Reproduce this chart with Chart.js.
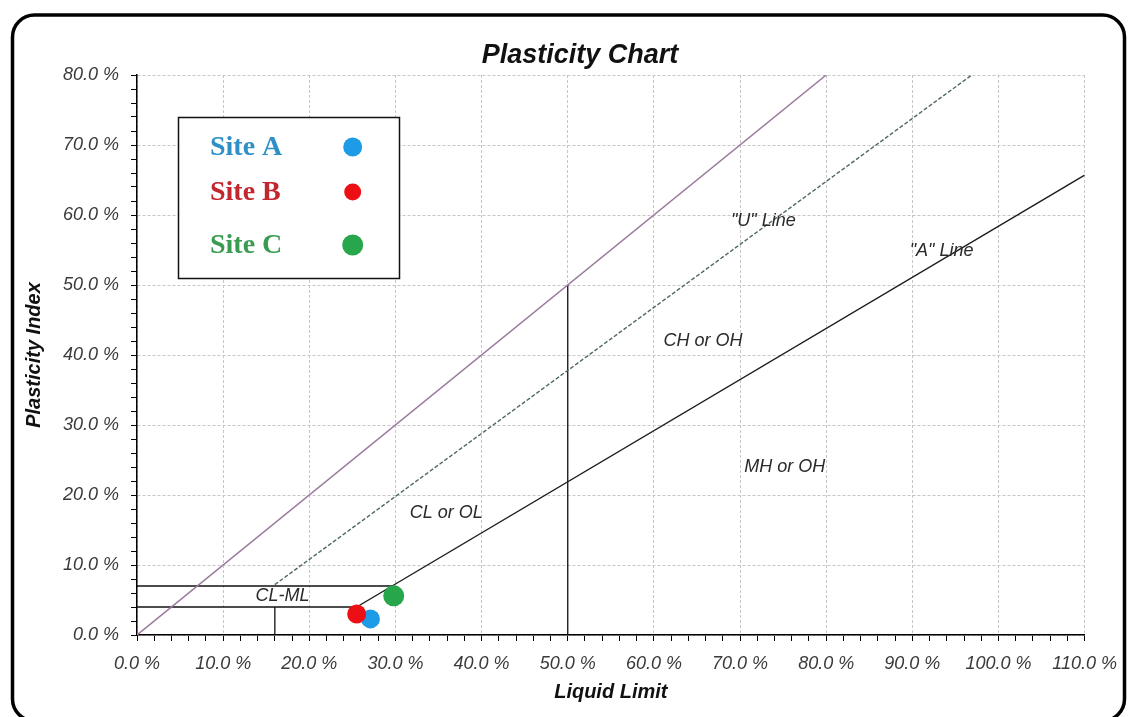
<!DOCTYPE html>
<html>
<head>
<meta charset="utf-8">
<title>Plasticity Chart</title>
<script src="https://cdn.jsdelivr.net/npm/chart.js@4/dist/chart.umd.min.js"></script>
<style>
  html, body { margin: 0; padding: 0; background: #fff; }
  canvas { display: block; }
</style>
</head>
<body>
<canvas id="plasticity" width="1129" height="717"></canvas>
<script>
// ---- text ----
const chartTitle = 'Plasticity Chart';
const xAxisTitle = 'Liquid Limit';
const yAxisTitle = 'Plasticity Index';

// ---- tick labels (percent) ----
const xMajorTicks = [0, 10, 20, 30, 40, 50, 60, 70, 80, 90, 100, 110];
const yMajorTicks = [0, 10, 20, 30, 40, 50, 60, 70, 80];
const minorStep = 2;

// ---- sample results: liquid limit (%) and plasticity index (%) ----
const siteNames = ['Site A', 'Site B', 'Site C'];
const siteLL = [27.1, 25.5, 29.8];
const sitePI = [2.3, 3.0, 5.6];
const siteColors = ['#1e9be6', '#ec1016', '#27a64c'];
const siteTextColors = ['#2f90c8', '#c2262e', '#3a9c52'];

// ---- classification lines (LL %, PI %) ----
const equalityLL = [0, 80];     const equalityPI = [0, 80];
const uLineLL = [16, 96.9];     const uLinePI = [7.2, 80];
const aLineLL = [25.5, 110];    const aLinePI = [4.0, 65.7];
const ll50LL = [50, 50];        const ll50PI = [0, 50];
const pi7LL = [0, 29.6];        const pi7PI = [7, 7];
const pi4LL = [0, 25.5];        const pi4PI = [4, 4];
const ll16LL = [16, 16];        const ll16PI = [0, 4];

// ---- zone and line captions ----
const zoneLabels = ['"U" Line', '"A" Line', 'CH or OH', 'MH or OH', 'CL or OL', 'CL-ML'];
const zoneLabelLL = [72.7, 93.4, 65.7, 75.2, 35.9, 16.9];
const zoneLabelPI = [59.1, 54.9, 42.0, 24.0, 17.4, 5.6];

const SANS = '"Liberation Sans", Arial, Helvetica, sans-serif';
const SERIF = '"Liberation Serif", "Times New Roman", serif';

const toPoints = (xs, ys) => xs.map((x, i) => ({ x: x, y: ys[i] }));

function lineSet(xs, ys, color, width, dash) {
  return {
    label: '',
    data: toPoints(xs, ys),
    showLine: true,
    borderColor: color,
    borderWidth: width,
    borderDash: dash || [],
    pointRadius: 0,
    pointHoverRadius: 0,
    fill: false,
    tension: 0
  };
}

function siteSet(i, radius) {
  return {
    label: siteNames[i],
    data: [{ x: siteLL[i], y: sitePI[i] }],
    backgroundColor: siteColors[i],
    borderColor: siteColors[i],
    borderWidth: 0,
    pointRadius: radius,
    pointHoverRadius: radius,
    showLine: false
  };
}

function spanTicks(max) {
  const t = [];
  for (let v = 0; v <= max; v += minorStep) t.push({ value: v });
  return t;
}

// datasets later in the list are painted first
const datasets = [
  siteSet(2, 10.5),
  siteSet(1, 9.5),
  siteSet(0, 9.5),
  lineSet(aLineLL, aLinePI, '#1c1c1c', 1.4),
  lineSet(uLineLL, uLinePI, '#4f6666', 1.4, [4, 2]),
  lineSet(equalityLL, equalityPI, '#9a7a9c', 1.5),
  lineSet(ll50LL, ll50PI, '#111', 1.3),
  lineSet(pi7LL, pi7PI, '#111', 1.3),
  lineSet(pi4LL, pi4PI, '#111', 1.3),
  lineSet(ll16LL, ll16PI, '#111', 1.3)
];

const gridColor = (majors) => (c) =>
  (c.tick && majors.includes(c.tick.value)) ? '#c6c6c6' : 'rgba(0,0,0,0)';

const decor = {
  id: 'decor',
  beforeDraw(chart) {
    const { ctx, width, height } = chart;
    ctx.save();
    ctx.fillStyle = '#ffffff';
    ctx.fillRect(0, 0, width, height);
    ctx.restore();
  },
  afterDatasetsDraw(chart) {
    const { ctx, scales } = chart;
    ctx.save();
    ctx.font = 'italic 18px ' + SANS;
    ctx.fillStyle = '#2a2a2a';
    ctx.textAlign = 'center';
    ctx.textBaseline = 'middle';
    zoneLabels.forEach((t, i) => {
      ctx.fillText(t, scales.x.getPixelForValue(zoneLabelLL[i]), scales.y.getPixelForValue(zoneLabelPI[i]));
    });
    ctx.restore();
  },
  afterDraw(chart) {
    const { ctx } = chart;
    ctx.save();

    // title
    ctx.font = 'italic bold 27px ' + SANS;
    ctx.fillStyle = '#111';
    ctx.textAlign = 'center';
    ctx.textBaseline = 'middle';
    ctx.fillText(chartTitle, 580, 56);

    // legend box
    ctx.fillStyle = '#fff';
    ctx.fillRect(178, 117, 221, 161);
    ctx.lineWidth = 1.5;
    ctx.strokeStyle = '#111';
    ctx.strokeRect(178.5, 117.5, 221, 161);
    const rowY = [147, 192, 245];
    const markR = [9.5, 8.5, 10.5];
    ctx.font = 'bold 28px ' + SERIF;
    ctx.textAlign = 'left';
    siteNames.forEach((name, i) => {
      ctx.fillStyle = siteTextColors[i];
      ctx.fillText(name, 210, rowY[i] + 1);
      ctx.beginPath();
      ctx.arc(352.7, rowY[i], markR[i], 0, Math.PI * 2);
      ctx.fillStyle = siteColors[i];
      ctx.fill();
    });

    // outer rounded frame
    ctx.lineWidth = 3.5;
    ctx.strokeStyle = '#000';
    ctx.beginPath();
    ctx.roundRect(12.5, 15, 1112, 706, 22);
    ctx.stroke();
    ctx.restore();
  }
};

new Chart(document.getElementById('plasticity'), {
  type: 'scatter',
  data: { datasets: datasets },
  plugins: [decor],
  options: {
    responsive: false,
    animation: false,
    events: [],
    devicePixelRatio: 1,
    layout: { padding: { left: 0, right: 43, top: 75, bottom: 0 } },
    plugins: {
      legend: { display: false },
      tooltip: { enabled: false },
      title: { display: false }
    },
    scales: {
      x: {
        type: 'linear',
        min: 0,
        max: 110,
        afterBuildTicks: (s) => { s.ticks = spanTicks(110); },
        afterFit: (s) => { s.height = 82; },
        ticks: {
          autoSkip: false,
          maxRotation: 0,
          padding: 12,
          color: '#3a3a3a',
          font: { family: SANS, size: 18, style: 'italic' },
          callback: (v) => xMajorTicks.includes(v) ? v.toFixed(1) + ' %' : ''
        },
        grid: {
          color: gridColor(xMajorTicks),
          lineWidth: 1,
          tickLength: 6,
          tickColor: '#000',
          tickWidth: 1
        },
        border: { color: '#000', width: 1.5, dash: [3, 2] },
        title: {
          display: true,
          text: xAxisTitle,
          color: '#111',
          font: { family: SANS, size: 20, style: 'italic', weight: 'bold' },
          padding: { top: 0, bottom: 13 }
        }
      },
      y: {
        type: 'linear',
        min: 0,
        max: 80,
        afterBuildTicks: (s) => { s.ticks = spanTicks(80); },
        afterFit: (s) => { s.width = 137; },
        ticks: {
          autoSkip: false,
          padding: 12,
          color: '#3a3a3a',
          font: { family: SANS, size: 18, style: 'italic' },
          callback: (v) => yMajorTicks.includes(v) ? v.toFixed(1) + ' %' : ''
        },
        grid: {
          color: gridColor(yMajorTicks),
          lineWidth: 1,
          tickLength: 6,
          tickColor: '#000',
          tickWidth: 1
        },
        border: { color: '#000', width: 1.5, dash: [3, 2] },
        title: {
          display: true,
          text: yAxisTitle,
          color: '#111',
          font: { family: SANS, size: 20, style: 'italic', weight: 'bold' },
          padding: { top: 22, bottom: 0 }
        }
      }
    }
  }
});
</script>
</body>
</html>
